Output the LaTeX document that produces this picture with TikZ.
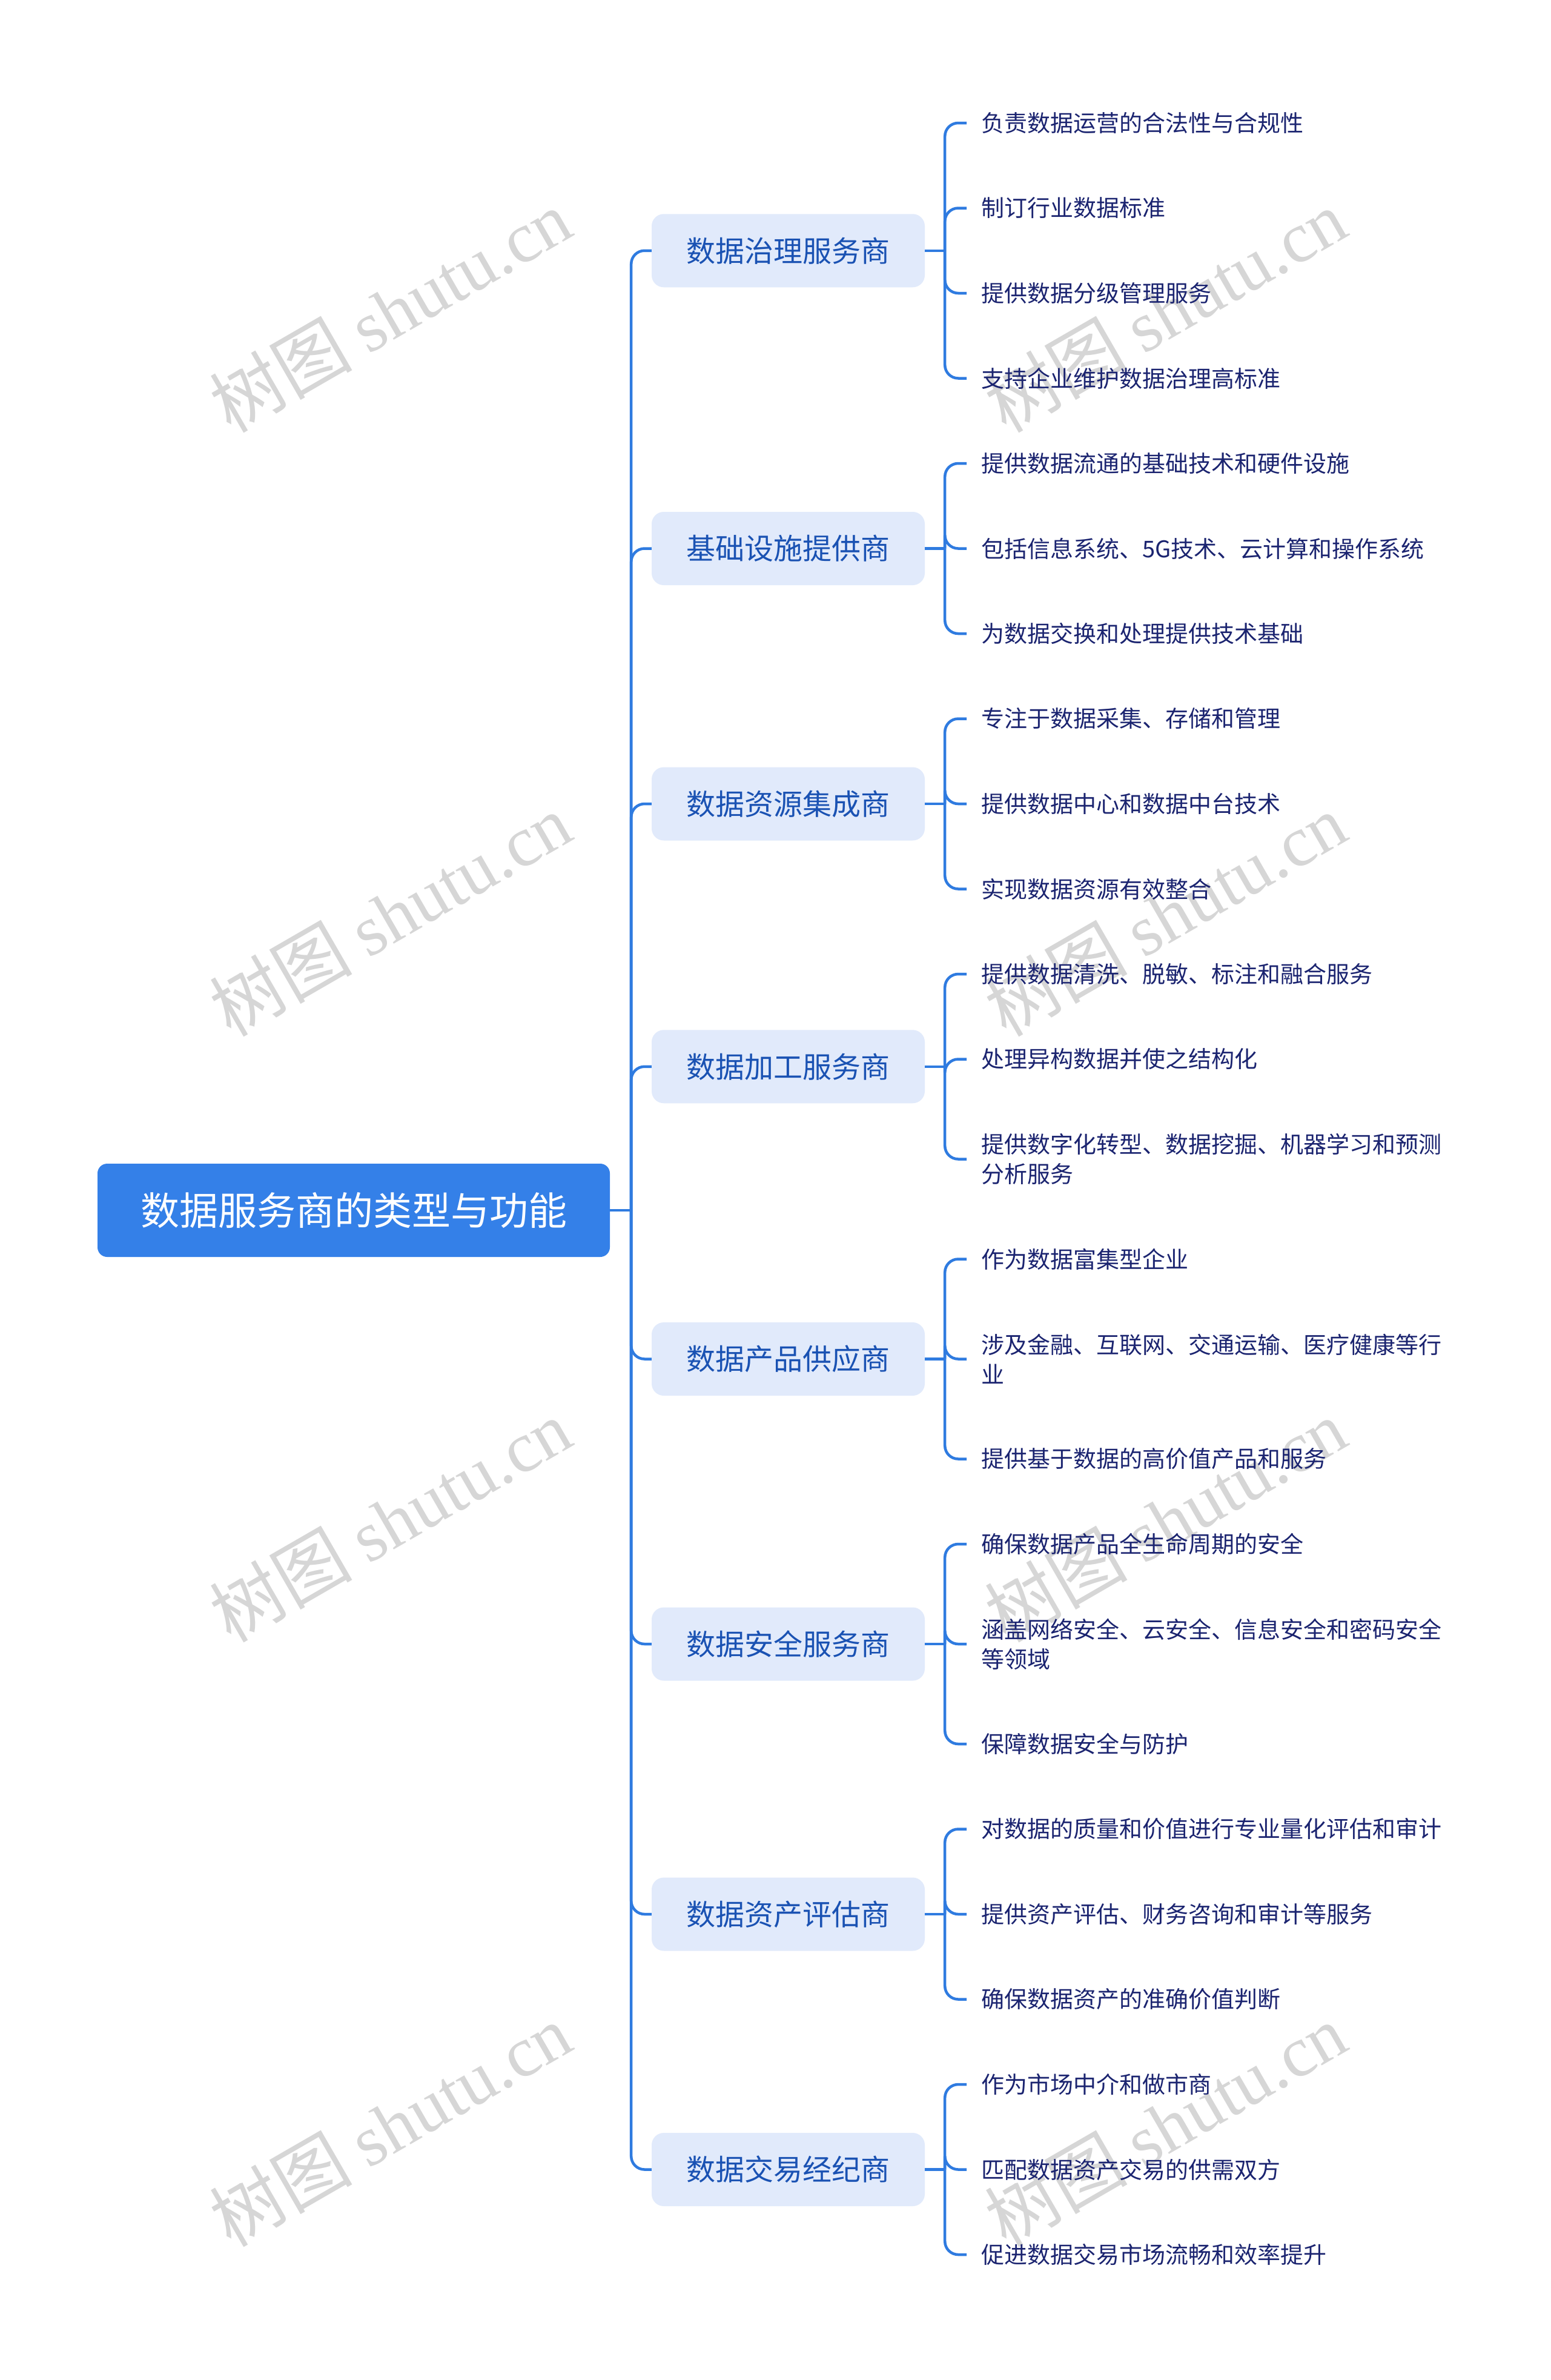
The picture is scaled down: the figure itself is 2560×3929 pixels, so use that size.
\documentclass[tikz,border=0pt]{standalone}
\usepackage{fontspec}
\setmainfont{Noto Sans CJK SC}
\newfontfamily\wmlatin{Liberation Serif}
\definecolor{rootblue}{HTML}{3480E8}
\definecolor{branchfill}{HTML}{E1EAFB}
\definecolor{branchtext}{HTML}{1A52B3}
\definecolor{leaftext}{HTML}{1B2470}
\definecolor{linkblue}{HTML}{2F7BE0}
\definecolor{wmgray}{HTML}{D6D6D6}
\tikzset{
  rootbox/.style={rounded corners=16pt, fill=rootblue, text=white, minimum width=846pt, minimum height=154pt, inner sep=0pt, font=\fontsize{64pt}{77pt}\selectfont},
  branchbox/.style={rounded corners=20pt, fill=branchfill, text=branchtext, minimum width=451pt, minimum height=121pt, inner sep=0pt, font=\fontsize{48pt}{58pt}\selectfont},
  leafnode/.style={anchor=west, inner xsep=24pt, inner ysep=0pt, text=leaftext, align=left, font=\fontsize{38pt}{49pt}\selectfont},
  conn/.style={draw=linkblue, line width=4.5pt, rounded corners=22pt},
  wmark/.style={text=wmgray, rotate=30, inner sep=0pt, font=\fontsize{118pt}{136pt}\selectfont}
}
\begin{document}
\begin{tikzpicture}[x=1pt, y=-1pt]
\fill[white] (0,0) rectangle (2560,3929);
\useasboundingbox (0,0) rectangle (2560,3929);
% watermarks
\foreach \wy [count=\i] in {513,1510,2510,3508}{
  \node[wmark] (wl\i) at (644,\wy) {树图 {\wmlatin shutu.cn}};
  \node[wmark] (wr\i) at (1924,\wy) {树图 {\wmlatin shutu.cn}};
}
% root
\node[rootbox] (root) at (584,1998) {数据服务商的类型与功能};
% branches
\node[branchbox] (b1) at (1301.5,413.75) {数据治理服务商};
\node[branchbox] (b2) at (1301.5,905.5) {基础设施提供商};
\node[branchbox] (b3) at (1301.5,1327) {数据资源集成商};
\node[branchbox] (b4) at (1301.5,1760.75) {数据加工服务商};
\node[branchbox] (b5) at (1301.5,2243.5) {数据产品供应商};
\node[branchbox] (b6) at (1301.5,2714) {数据安全服务商};
\node[branchbox] (b7) at (1301.5,3160) {数据资产评估商};
\node[branchbox] (b8) at (1301.5,3581.5) {数据交易经纪商};
% leaves
\node[leafnode] (l1) at (1596,203) {负责数据运营的合法性与合规性};
\node[leafnode] (l2) at (1596,343.5) {制订行业数据标准};
\node[leafnode] (l3) at (1596,484) {提供数据分级管理服务};
\node[leafnode] (l4) at (1596,624.5) {支持企业维护数据治理高标准};
\node[leafnode] (l5) at (1596,765) {提供数据流通的基础技术和硬件设施};
\node[leafnode] (l6) at (1596,905.5) {包括信息系统、5G技术、云计算和操作系统};
\node[leafnode] (l7) at (1596,1046) {为数据交换和处理提供技术基础};
\node[leafnode] (l8) at (1596,1186.5) {专注于数据采集、存储和管理};
\node[leafnode] (l9) at (1596,1327) {提供数据中心和数据中台技术};
\node[leafnode] (l10) at (1596,1467.5) {实现数据资源有效整合};
\node[leafnode] (l11) at (1596,1608) {提供数据清洗、脱敏、标注和融合服务};
\node[leafnode] (l12) at (1596,1748.5) {处理异构数据并使之结构化};
\node[leafnode] (l13) at (1596,1913.5) {提供数字化转型、数据挖掘、机器学习和预测\\分析服务};
\node[leafnode] (l14) at (1596,2078.5) {作为数据富集型企业};
\node[leafnode] (l15) at (1596,2243.5) {涉及金融、互联网、交通运输、医疗健康等行\\业};
\node[leafnode] (l16) at (1596,2408.5) {提供基于数据的高价值产品和服务};
\node[leafnode] (l17) at (1596,2549) {确保数据产品全生命周期的安全};
\node[leafnode] (l18) at (1596,2714) {涵盖网络安全、云安全、信息安全和密码安全\\等领域};
\node[leafnode] (l19) at (1596,2879) {保障数据安全与防护};
\node[leafnode] (l20) at (1596,3019.5) {对数据的质量和价值进行专业量化评估和审计};
\node[leafnode] (l21) at (1596,3160) {提供资产评估、财务咨询和审计等服务};
\node[leafnode] (l22) at (1596,3300.5) {确保数据资产的准确价值判断};
\node[leafnode] (l23) at (1596,3441) {作为市场中介和做市商};
\node[leafnode] (l24) at (1596,3581.5) {匹配数据资产交易的供需双方};
\node[leafnode] (l25) at (1596,3722) {促进数据交易市场流畅和效率提升};
% root to branches
\draw[conn] (root.east) -- ++(35,0) coordinate (rj);
\foreach \b in {1,...,8}{
  \draw[conn] (rj) |- (b\b.west);
}
% branches to leaves
\foreach \b/\leaves in {1/{1,2,3,4}, 2/{5,6,7}, 3/{8,9,10}, 4/{11,12,13}, 5/{14,15,16}, 6/{17,18,19}, 7/{20,21,22}, 8/{23,24,25}}{
  \draw[conn] (b\b.east) -- ++(33,0) coordinate (bj\b);
  \foreach \l in \leaves {
    \draw[conn] (bj\b) |- (l\l.west);
  }
}
\end{tikzpicture}
\end{document}
